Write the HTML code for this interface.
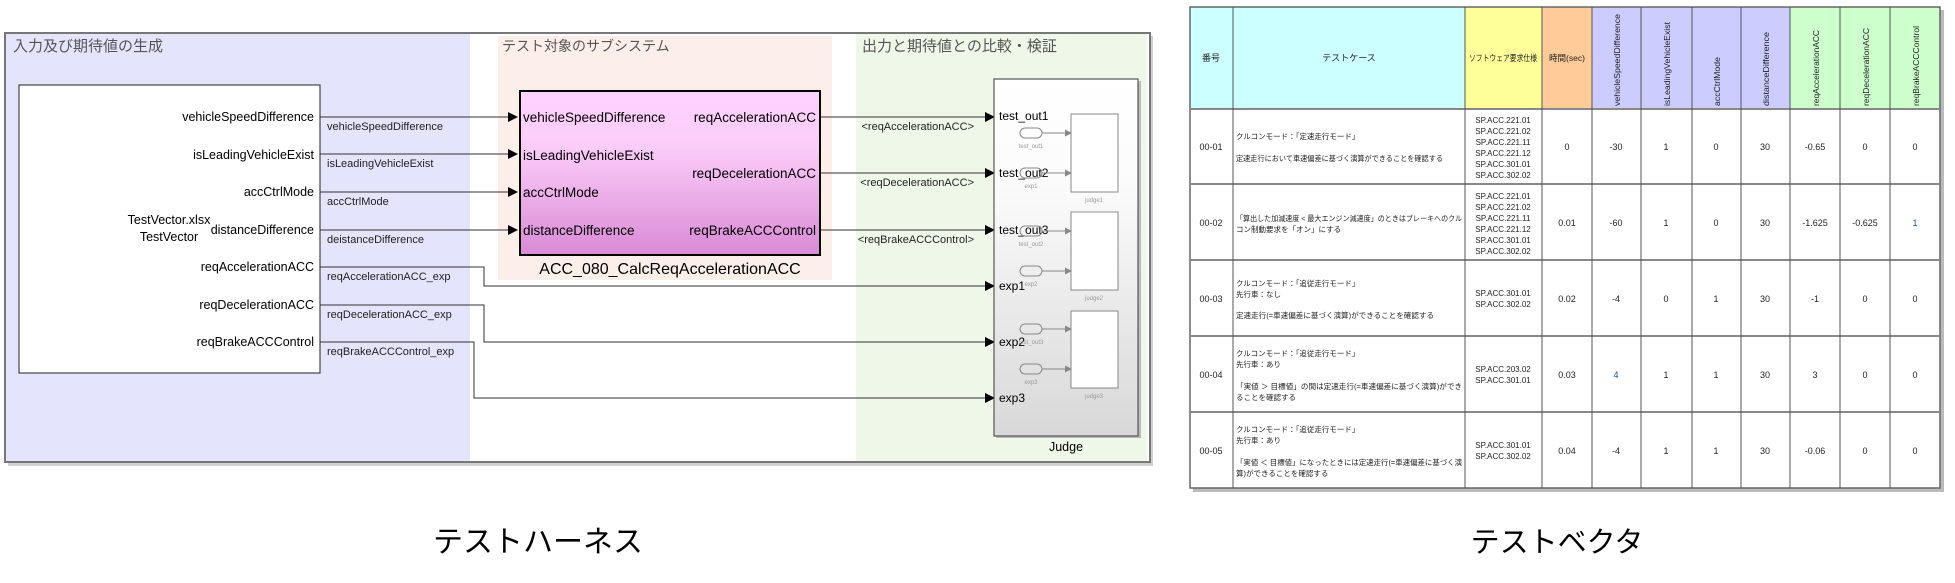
<!DOCTYPE html>
<html><head><meta charset="utf-8"><style>
html,body{margin:0;padding:0;background:#fff;}
svg{display:block;}
text{font-family:"Liberation Sans","Noto Sans CJK JP",sans-serif;}
</style></head><body>
<svg width="1955" height="583" viewBox="0 0 1955 583" xmlns="http://www.w3.org/2000/svg">
<defs>
<linearGradient id="pk" x1="0" y1="0" x2="0" y2="1"><stop offset="0" stop-color="#ffd2ff"/><stop offset="0.35" stop-color="#fbccf8"/><stop offset="1" stop-color="#d98ad6"/></linearGradient>
<linearGradient id="jg" x1="0" y1="0" x2="0" y2="1"><stop offset="0" stop-color="#ffffff"/><stop offset="0.3" stop-color="#fbfbfb"/><stop offset="1" stop-color="#d8d8d8"/></linearGradient>
<marker id="ar" markerWidth="10" markerHeight="10" refX="9" refY="5" orient="auto" markerUnits="userSpaceOnUse"><path d="M0,0 L10,5 L0,10 z" fill="#000"/></marker>
<marker id="ag" markerWidth="7" markerHeight="7" refX="6" refY="3.5" orient="auto" markerUnits="userSpaceOnUse"><path d="M0,0 L7,3.5 L0,7 z" fill="#888"/></marker>
</defs>

<rect x="8" y="36" width="1145" height="430" fill="#d0d0d0"/>
<rect x="5" y="33" width="1145" height="429" fill="#fff" stroke="#777" stroke-width="2"/>
<rect x="6" y="34" width="464" height="427" fill="#e4e4fc"/>
<rect x="498" y="36" width="334" height="244" fill="#fcefe9"/>
<rect x="856" y="34" width="291" height="427" fill="#eff7e9"/>
<text x="13" y="51" font-size="15" fill="#555">入力及び期待値の生成</text>
<text x="502" y="51" font-size="14" fill="#555">テスト対象のサブシステム</text>
<text x="862" y="51" font-size="15" fill="#555">出力と期待値との比較・検証</text>

<rect x="19" y="85" width="301" height="288" fill="#fff" stroke="#444" stroke-width="1.2"/>
<g font-size="12.5" text-anchor="end" fill="#000">
<text x="314" y="121">vehicleSpeedDifference</text>
<text x="314" y="159">isLeadingVehicleExist</text>
<text x="314" y="196">accCtrlMode</text>
<text x="314" y="234">distanceDifference</text>
<text x="314" y="271">reqAccelerationACC</text>
<text x="314" y="309">reqDecelerationACC</text>
<text x="314" y="346">reqBrakeACCControl</text>
</g>
<text x="169" y="224" font-size="12.5" text-anchor="middle">TestVector.xlsx</text>
<text x="169" y="241" font-size="12.5" text-anchor="middle">TestVector</text>

<g stroke="#333" stroke-width="1" fill="none">
<line x1="320" y1="117" x2="517" y2="117" marker-end="url(#ar)"/>
<line x1="320" y1="154" x2="517" y2="154" marker-end="url(#ar)"/>
<line x1="320" y1="192" x2="517" y2="192" marker-end="url(#ar)"/>
<line x1="320" y1="230" x2="517" y2="230" marker-end="url(#ar)"/>
<polyline points="320,267 484,267 484,286 994,286" marker-end="url(#ar)"/>
<polyline points="320,305 484,305 484,342 994,342" marker-end="url(#ar)"/>
<polyline points="320,342 474,342 474,398 994,398" marker-end="url(#ar)"/>
<line x1="820" y1="117" x2="994" y2="117" marker-end="url(#ar)"/>
<line x1="820" y1="173" x2="994" y2="173" marker-end="url(#ar)"/>
<line x1="820" y1="230" x2="994" y2="230" marker-end="url(#ar)"/>
</g>
<g font-size="11" fill="#222">
<text x="327" y="130">vehicleSpeedDifference</text>
<text x="327" y="167">isLeadingVehicleExist</text>
<text x="327" y="205">accCtrlMode</text>
<text x="327" y="243">deistanceDifference</text>
<text x="327" y="280">reqAccelerationACC_exp</text>
<text x="327" y="318">reqDecelerationACC_exp</text>
<text x="327" y="355">reqBrakeACCControl_exp</text>
</g>
<g font-size="11" fill="#222" text-anchor="end">
<text x="974" y="130">&lt;reqAccelerationACC&gt;</text>
<text x="974" y="186">&lt;reqDecelerationACC&gt;</text>
<text x="974" y="243">&lt;reqBrakeACCControl&gt;</text>
</g>

<rect x="520" y="91" width="300" height="164" fill="url(#pk)" stroke="#000" stroke-width="2"/>
<g font-size="13.5" fill="#000">
<text x="523" y="122">vehicleSpeedDifference</text>
<text x="523" y="160">isLeadingVehicleExist</text>
<text x="523" y="197">accCtrlMode</text>
<text x="523" y="235">distanceDifference</text>
</g>
<g font-size="13.5" fill="#000" text-anchor="end">
<text x="816" y="122">reqAccelerationACC</text>
<text x="816" y="178">reqDecelerationACC</text>
<text x="816" y="235">reqBrakeACCControl</text>
</g>
<text x="670" y="274" font-size="16" text-anchor="middle">ACC_080_CalcReqAccelerationACC</text>

<rect x="996" y="81" width="145" height="357" fill="#bbb"/>
<rect x="994" y="79" width="144" height="357" fill="url(#jg)" stroke="#555" stroke-width="1.2"/>
<text x="1066" y="451" font-size="12.5" text-anchor="middle">Judge</text>
<g font-size="12" fill="#000">
<text x="999" y="120">test_out1</text>
<text x="999" y="177">test_out2</text>
<text x="999" y="234">test_out3</text>
<text x="999" y="290">exp1</text>
<text x="999" y="346">exp2</text>
<text x="999" y="402">exp3</text>
</g>
<g fill="#fff" stroke="#888" stroke-width="1">
<rect x="1071" y="114" width="47" height="78"/>
<rect x="1071" y="212" width="47" height="78"/>
<rect x="1071" y="311" width="47" height="77"/>
</g>
<g fill="none" stroke="#888" stroke-width="1">
<rect x="1020" y="128" width="22" height="10" rx="5"/>
<rect x="1020" y="168" width="22" height="10" rx="5"/>
<rect x="1020" y="226" width="22" height="10" rx="5"/>
<rect x="1020" y="266" width="22" height="10" rx="5"/>
<rect x="1020" y="324" width="22" height="10" rx="5"/>
<rect x="1020" y="364" width="22" height="10" rx="5"/>
<line x1="1042" y1="133" x2="1071" y2="133" marker-end="url(#ag)"/>
<line x1="1042" y1="173" x2="1071" y2="173" marker-end="url(#ag)"/>
<line x1="1042" y1="231" x2="1071" y2="231" marker-end="url(#ag)"/>
<line x1="1042" y1="271" x2="1071" y2="271" marker-end="url(#ag)"/>
<line x1="1042" y1="329" x2="1071" y2="329" marker-end="url(#ag)"/>
<line x1="1042" y1="369" x2="1071" y2="369" marker-end="url(#ag)"/>
</g>
<g font-size="6" fill="#999" text-anchor="middle">
<text x="1031" y="148">test_out1</text>
<text x="1031" y="188">exp1</text>
<text x="1031" y="246">test_out2</text>
<text x="1031" y="286">exp2</text>
<text x="1031" y="344">test_out3</text>
<text x="1031" y="384">exp3</text>
<text x="1094" y="202">judge1</text>
<text x="1094" y="300">judge2</text>
<text x="1094" y="398">judge3</text>
</g>

<text x="538" y="552" font-size="30" text-anchor="middle">テストハーネス</text>
<text x="1557" y="552" font-size="29" text-anchor="middle">テストベクタ</text>

<rect x="1193" y="10" width="751" height="482" fill="#bbb"/>
<rect x="1190" y="7" width="750" height="481" fill="#fff"/>
<rect x="1190" y="7" width="43" height="102" fill="#ccffff"/>
<rect x="1233" y="7" width="232" height="102" fill="#ccffff"/>
<rect x="1465" y="7" width="77" height="102" fill="#ffff99"/>
<rect x="1542" y="7" width="50" height="102" fill="#ffcc99"/>
<rect x="1592" y="7" width="149" height="102" fill="#ccccff"/>
<rect x="1741" y="7" width="49" height="102" fill="#ccccff"/>
<rect x="1790" y="7" width="150" height="102" fill="#ccffcc"/>
<g stroke="#555" stroke-width="1" fill="none">
<rect x="1190" y="7" width="750" height="481" stroke="#666" stroke-width="1.5"/>
<line x1="1190" y1="109" x2="1940" y2="109" stroke="#888" stroke-width="2"/>
<line x1="1190" y1="184" x2="1940" y2="184" stroke="#888" stroke-width="2"/>
<line x1="1190" y1="260" x2="1940" y2="260" stroke="#888" stroke-width="2"/>
<line x1="1190" y1="336" x2="1940" y2="336" stroke="#888" stroke-width="2"/>
<line x1="1190" y1="412" x2="1940" y2="412" stroke="#888" stroke-width="2"/>
<line x1="1233" y1="7" x2="1233" y2="488"/>
<line x1="1465" y1="7" x2="1465" y2="488"/>
<line x1="1542" y1="7" x2="1542" y2="488"/>
<line x1="1592" y1="7" x2="1592" y2="488"/>
<line x1="1641" y1="7" x2="1641" y2="488"/>
<line x1="1692" y1="7" x2="1692" y2="488"/>
<line x1="1741" y1="7" x2="1741" y2="488"/>
<line x1="1790" y1="7" x2="1790" y2="488"/>
<line x1="1840" y1="7" x2="1840" y2="488"/>
<line x1="1890" y1="7" x2="1890" y2="488"/>
</g>
<g font-size="9" fill="#222" text-anchor="middle">
<text x="1211" y="61">番号</text>
<text x="1349" y="61">テストケース</text>
<text x="1503" y="61" font-size="8.5" textLength="68" lengthAdjust="spacingAndGlyphs">ソフトウェア要求仕様</text>
<text x="1567" y="61" font-size="8.5" textLength="36" lengthAdjust="spacingAndGlyphs">時間(sec)</text>
</g>
<g font-size="8.5" fill="#222">
<text transform="translate(1620,106) rotate(-90)" textLength="92" lengthAdjust="spacingAndGlyphs">vehicleSpeedDifference</text>
<text transform="translate(1670,106) rotate(-90)" textLength="84" lengthAdjust="spacingAndGlyphs">isLeadingVehicleExist</text>
<text transform="translate(1720,106) rotate(-90)" textLength="49" lengthAdjust="spacingAndGlyphs">accCtrlMode</text>
<text transform="translate(1769,106) rotate(-90)" textLength="74" lengthAdjust="spacingAndGlyphs">distanceDifference</text>
<text transform="translate(1819,106) rotate(-90)" textLength="76" lengthAdjust="spacingAndGlyphs">reqAccelerationACC</text>
<text transform="translate(1869,106) rotate(-90)" textLength="78" lengthAdjust="spacingAndGlyphs">reqDecelerationACC</text>
<text transform="translate(1919,106) rotate(-90)" textLength="80" lengthAdjust="spacingAndGlyphs">reqBrakeACCControl</text>
</g>
<g font-size="9" fill="#222" text-anchor="middle">
<text x="1211" y="150">00-01</text><text x="1211" y="226">00-02</text><text x="1211" y="302">00-03</text><text x="1211" y="378">00-04</text><text x="1211" y="454">00-05</text>
<text x="1567" y="150">0</text><text x="1567" y="226">0.01</text><text x="1567" y="302">0.02</text><text x="1567" y="378">0.03</text><text x="1567" y="454">0.04</text>
<text x="1616" y="150">-30</text><text x="1616" y="226">-60</text><text x="1616" y="302">-4</text><text x="1616" y="378" fill="#1a4fa0">4</text><text x="1616" y="454">-4</text>
<text x="1666" y="150">1</text><text x="1666" y="226">1</text><text x="1666" y="302">0</text><text x="1666" y="378">1</text><text x="1666" y="454">1</text>
<text x="1716" y="150">0</text><text x="1716" y="226">0</text><text x="1716" y="302">1</text><text x="1716" y="378">1</text><text x="1716" y="454">1</text>
<text x="1765" y="150">30</text><text x="1765" y="226">30</text><text x="1765" y="302">30</text><text x="1765" y="378">30</text><text x="1765" y="454">30</text>
<text x="1815" y="150">-0.65</text><text x="1815" y="226">-1.625</text><text x="1815" y="302">-1</text><text x="1815" y="378">3</text><text x="1815" y="454">-0.06</text>
<text x="1865" y="150">0</text><text x="1865" y="226">-0.625</text><text x="1865" y="302">0</text><text x="1865" y="378">0</text><text x="1865" y="454">0</text>
<text x="1915" y="150">0</text><text x="1915" y="226" fill="#1a4fa0">1</text><text x="1915" y="302">0</text><text x="1915" y="378">0</text><text x="1915" y="454">0</text>
</g>
<g font-size="8" fill="#222" text-anchor="middle">
<text x="1503" y="123">SP.ACC.221.01</text><text x="1503" y="134">SP.ACC.221.02</text><text x="1503" y="145">SP.ACC.221.11</text><text x="1503" y="156">SP.ACC.221.12</text><text x="1503" y="167">SP.ACC.301.01</text><text x="1503" y="178">SP.ACC.302.02</text>
<text x="1503" y="199">SP.ACC.221.01</text><text x="1503" y="210">SP.ACC.221.02</text><text x="1503" y="221">SP.ACC.221.11</text><text x="1503" y="232">SP.ACC.221.12</text><text x="1503" y="243">SP.ACC.301.01</text><text x="1503" y="254">SP.ACC.302.02</text>
<text x="1503" y="296">SP.ACC.301.01</text><text x="1503" y="307">SP.ACC.302.02</text>
<text x="1503" y="372">SP.ACC.203.02</text><text x="1503" y="383">SP.ACC.301.01</text>
<text x="1503" y="448">SP.ACC.301.01</text><text x="1503" y="459">SP.ACC.302.02</text>
</g>
<g font-size="7.5" fill="#222">
<text x="1236" y="139">クルコンモード：「定速走行モード」</text>
<text x="1236" y="161" textLength="207" lengthAdjust="spacingAndGlyphs">定速走行において車速偏差に基づく演算ができることを確認する</text>
<text x="1236" y="221" textLength="226" lengthAdjust="spacingAndGlyphs">「算出した加減速度 &lt; 最大エンジン減速度」のときはブレーキへのクル</text>
<text x="1236" y="232">コン制動要求を「オン」にする</text>
<text x="1236" y="286">クルコンモード：「追従走行モード」</text>
<text x="1236" y="297">先行車：なし</text>
<text x="1236" y="318" textLength="198" lengthAdjust="spacingAndGlyphs">定速走行(=車速偏差に基づく演算)ができることを確認する</text>
<text x="1236" y="356">クルコンモード：「追従走行モード」</text>
<text x="1236" y="367">先行車：あり</text>
<text x="1236" y="389" textLength="226" lengthAdjust="spacingAndGlyphs">「実値 ＞ 目標値」の間は定速走行(=車速偏差に基づく演算)ができ</text>
<text x="1236" y="400">ることを確認する</text>
<text x="1236" y="432">クルコンモード：「追従走行モード」</text>
<text x="1236" y="443">先行車：あり</text>
<text x="1236" y="465" textLength="226" lengthAdjust="spacingAndGlyphs">「実値 ＜ 目標値」になったときには定速走行(=車速偏差に基づく演</text>
<text x="1236" y="476">算)ができることを確認する</text>
</g>
</svg>
</body></html>
